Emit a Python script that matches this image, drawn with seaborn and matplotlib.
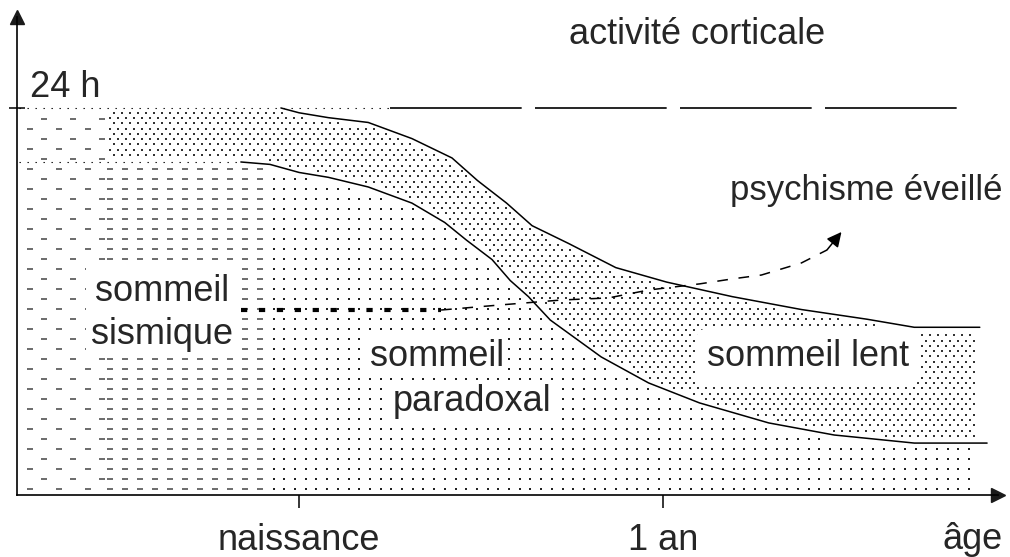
import numpy as np
import matplotlib
matplotlib.use("Agg")
import matplotlib.pyplot as plt
import seaborn as sns

# =====================================================
# DATA  (x: naissance = 0, 1 an = 1 ; y: hours per day)
# =====================================================

# total sleep (upper limit, above = activité corticale)
top_x = [-0.77, -0.05, 0.0, 0.08, 0.19, 0.31, 0.42, 0.49, 0.57, 0.64, 0.74,
         0.87, 1.01, 1.19, 1.38, 1.56, 1.69, 1.87]
top_y = [24.0, 24.0, 23.7, 23.4, 23.1, 22.1, 20.9, 19.5, 18.1, 16.7, 15.6,
         14.1, 13.2, 12.3, 11.5, 10.9, 10.4, 10.4]

# limit between sommeil lent (above) and sommeil paradoxal (below)
mid_x = [-0.77, -0.16, -0.08, 0.0, 0.08, 0.19, 0.31, 0.40, 0.46, 0.53, 0.58,
         0.63, 0.69, 0.83, 0.96, 1.10, 1.29, 1.47, 1.69, 1.89]
mid_y = [20.65, 20.65, 20.5, 20.0, 19.7, 19.1, 18.1, 16.9, 15.8, 14.6, 13.3,
         12.3, 10.85, 8.56, 6.95, 5.71, 4.47, 3.72, 3.22, 3.22]

# psychisme éveillé arrow
psy_x = [-0.16, 0.39, 0.55, 0.72, 0.85, 0.96, 1.10, 1.19, 1.27, 1.38, 1.45, 1.49]
psy_y = [11.47, 11.47, 11.78, 12.09, 12.22, 12.71, 13.09, 13.40, 13.64, 14.39, 15.19, 16.31]

x_ticks = [0, 1]
x_labels = ["naissance", "1 an"]

# =====================================================
# FIGURE SETUP
# =====================================================

sns.set_theme(style="white")
plt.rcParams['font.family'] = ['Liberation Sans', 'DejaVu Sans']

fig = plt.figure(figsize=(10.1, 5.57), dpi=100)
ax = fig.add_axes([17 / 1010, 62 / 557, 981 / 1010, 478 / 557])
ax.set_xlim(-0.775, 1.92)
ax.set_ylim(0, 29.64)

PX = 1 / 364      # one pixel in x data units
PY = 1 / 16.125   # one pixel in y data units

top_at = lambda x: np.interp(x, top_x, top_y)
mid_at = lambda x: np.interp(x, mid_x, mid_y)


def grid(x0, x1, dx, dy, stagger):
    rows = []
    for i, yv in enumerate(np.arange(6 * PY, 24, dy)):
        off = dx / 2 if (stagger and i % 2) else 0
        xs = np.arange(x0 + off, x1, dx)
        rows.append(np.column_stack([xs, np.full_like(xs, yv)]))
    return np.vstack(rows)


# ---------- textures ----------
# sommeil sismique (left, sparse staggered dashes)
g = grid(-0.74, -0.53, 29 * PX, 10 * PY, True)
g = g[g[:, 1] < 24 - 4 * PY]
ax.scatter(g[:, 0], g[:, 1], marker="_", s=20, linewidths=1.1, color="#444444", zorder=1)

# sommeil sismique turning into paradoxal (dense dashes)
g = grid(-0.52, -0.09, 15 * PX, 10 * PY, False)
g = g[g[:, 1] < mid_at(g[:, 0]) - 5 * PY]
ax.scatter(g[:, 0], g[:, 1], marker="_", s=20, linewidths=1.1, color="#444444", zorder=1)

# sommeil paradoxal (sparse dots)
g = grid(-0.07, 1.86, 10.7 * PX, 10 * PY, False)
g = g[g[:, 1] < mid_at(g[:, 0]) - 5 * PY]
ax.scatter(g[:, 0], g[:, 1], marker="s", s=1.0, linewidths=0, color="#222222", zorder=1)

# sommeil lent (dense staggered dots)
g = grid(-0.52, 1.86, 8 * PX, 5.3 * PY, True)
g = g[(g[:, 1] > mid_at(g[:, 0]) + 4 * PY) & (g[:, 1] < top_at(g[:, 0]) - 4 * PY)]
ax.scatter(g[:, 0], g[:, 1], marker="s", s=0.9, linewidths=0, color="#333333", zorder=1)

# ---------- curves ----------
sns.lineplot(x=top_x[1:], y=top_y[1:], sort=False, estimator=None,
             color="black", linewidth=1.1, ax=ax, zorder=3)
sns.lineplot(x=mid_x[1:], y=mid_y[1:], sort=False, estimator=None,
             color="black", linewidth=1.1, ax=ax, zorder=3)
ax.plot(mid_x[:2], mid_y[:2], color="black", linewidth=0.8,
        linestyle=(0, (1.2, 6)), zorder=3)

# 24 h line: dotted then long dashes
ax.plot([top_x[0], 0.25], [24, 24], color="black", linewidth=0.8,
        linestyle=(0, (1.2, 6)), zorder=3)
ax.plot([0.25, 1.843], [24, 24], color="black", linewidth=1.2,
        linestyle=(0, (79, 8)), zorder=3)

# psychisme éveillé
ax.plot(psy_x[:2], psy_y[:2], color="black", linewidth=3,
        linestyle=(0, (1.5, 2.8)), zorder=3)
ax.plot(psy_x[1:-1], psy_y[1:-1], color="black", linewidth=1.1,
        linestyle=(0, (7, 7)), zorder=3)
ax.annotate("", xy=(psy_x[-1], psy_y[-1]), xytext=(psy_x[-2], psy_y[-2]),
            arrowprops=dict(arrowstyle="-|>", color="black", lw=1.1,
                            mutation_scale=22, shrinkA=0, shrinkB=0), zorder=3)

# ---------- labels ----------
FS = 26
white = dict(facecolor="white", edgecolor="none", pad=2)
ax.text(1.093, 28.53, "activité corticale", fontsize=FS, ha="center", va="center")
ax.text(-0.739, 25.24, "24 h", fontsize=FS, ha="left", va="center")
ax.text(1.558, 18.91, "psychisme éveillé", fontsize=25, ha="center", va="center", bbox=white)
ax.text(-0.376, 11.3, "sommeil\nsismique", fontsize=FS, ha="center", va="center",
        linespacing=1.3, bbox=dict(facecolor="white", edgecolor="none", pad=4), zorder=2)
ax.text(0.379, 8.56, "sommeil", fontsize=FS, ha="center", va="center", bbox=white, zorder=2)
ax.text(0.475, 5.77, "paradoxal", fontsize=FS, ha="center", va="center", bbox=white, zorder=2)
ax.text(1.398, 8.56, "sommeil lent", fontsize=FS, ha="center", va="center",
        bbox=dict(facecolor="white", edgecolor="none", boxstyle="round,pad=0.3"), zorder=2)
ax.text(1.849, -2.75, "âge", fontsize=FS, ha="center", va="center")

# ---------- axes ----------
for side in ["top", "right"]:
    ax.spines[side].set_visible(False)
for side in ["left", "bottom"]:
    ax.spines[side].set_color("black")
    ax.spines[side].set_linewidth(1.2)

ax.set_xticks(x_ticks)
ax.set_xticklabels(x_labels, fontsize=FS)
ax.tick_params(axis="x", direction="out", length=9, width=1.1, pad=11,
               bottom=True, color="black")
ax.set_yticks([24])
ax.set_yticklabels([])
ax.tick_params(axis="y", direction="inout", length=12, width=1.1,
               left=True, color="black")

ax.plot(1, 0, ">k", markersize=10, transform=ax.transAxes, clip_on=False)
ax.plot(0, 1, "^k", markersize=10, transform=ax.transAxes, clip_on=False)

fig.savefig("out.png", dpi=100)
